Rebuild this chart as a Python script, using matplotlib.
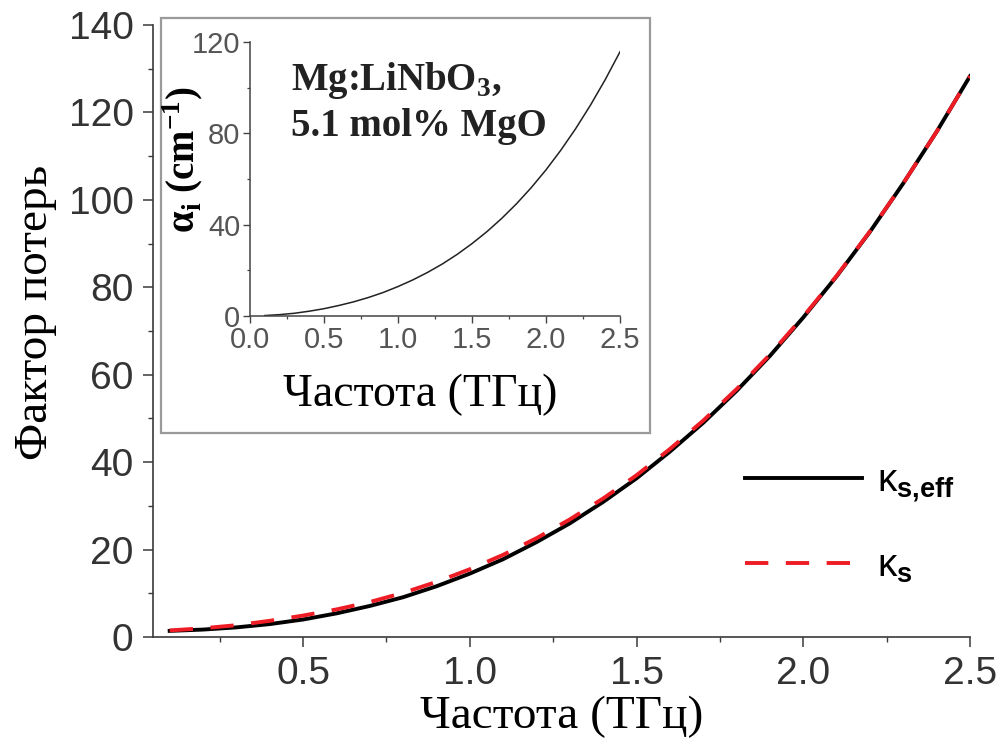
import matplotlib

matplotlib.use("Agg")
import matplotlib.pyplot as plt
from matplotlib.patches import Rectangle
from matplotlib.ticker import MultipleLocator

# Частота, ТГц
freq = [0.1, 0.2, 0.3, 0.4, 0.5, 0.6, 0.7, 0.8, 0.9, 1.0,
        1.1, 1.2, 1.3, 1.4, 1.5, 1.6, 1.7, 1.8, 1.9, 2.0,
        2.1, 2.2, 2.3, 2.4, 2.5]

# Фактор потерь: эффективный и обычный
kappa_eff = [1.4, 1.7, 2.2, 2.95, 4.0, 5.4, 7.1, 9.1, 11.6, 14.5,
             17.8, 21.7, 26.0, 30.9, 36.3, 42.4, 49.0, 56.3, 64.3, 73.1,
             82.5, 92.7, 103.8, 115.6, 128.3]
kappa_s = [1.5, 2.0, 2.7, 3.7, 4.9, 6.3, 8.0, 10.1, 12.6, 15.5,
           18.8, 22.6, 26.9, 31.7, 37.0, 43.0, 49.5, 56.7, 64.6, 73.3,
           82.6, 92.8, 103.8, 115.6, 128.3]

# Коэффициент поглощения Mg:LiNbO3, см^-1
alpha_i = [0.2, 0.6, 1.2, 2.1, 3.2, 4.6, 6.2, 8.1, 10.3, 12.9,
           15.8, 19.1, 22.8, 27.0, 31.7, 36.9, 42.7, 49.1, 56.2, 64.0,
           72.6, 82.0, 92.3, 103.5, 115.7]

plt.rcParams["mathtext.fontset"] = "custom"
plt.rcParams["mathtext.rm"] = "Liberation Serif"
plt.rcParams["mathtext.bf"] = "Liberation Serif:bold"
plt.rcParams["mathtext.sf"] = "Liberation Sans:bold"
plt.rcParams["font.family"] = ["Liberation Sans", "DejaVu Sans"]

W, H = 1006, 749
fig = plt.figure(figsize=(W / 100, H / 100), dpi=100)


def fx(px):
    return px / W


def fy(py):
    return 1 - py / H


SPINE = "#3a3a3a"
TICK_TXT = "#333333"

ax = fig.add_axes([fx(153), fy(637), fx(970) - fx(153), fy(25) - fy(637)])
ax.plot(freq, kappa_eff, color="black", lw=2.8, label="κ$_\\mathsf{s{,}eff}$", zorder=3)
ax.plot(freq, kappa_s, color="#ee1c24", lw=2.8, dashes=(6, 4.5),
        label="κ$_\\mathsf{s}$", zorder=4)
ax.set_xlim(0.05, 2.5)
ax.set_ylim(0, 140)
ax.xaxis.set_major_locator(MultipleLocator(0.5))
ax.xaxis.set_minor_locator(MultipleLocator(0.25))
ax.yaxis.set_major_locator(MultipleLocator(20))
ax.yaxis.set_minor_locator(MultipleLocator(10))
ax.set_xticks([0.5, 1.0, 1.5, 2.0, 2.5])
for s in ("top", "right"):
    ax.spines[s].set_visible(False)
for s in ("left", "bottom"):
    ax.spines[s].set_color(SPINE)
    ax.spines[s].set_linewidth(1.2)
ax.tick_params(which="major", direction="out", length=7, width=1.1,
               color=SPINE, labelsize=28, labelcolor=TICK_TXT, pad=7)
ax.tick_params(which="minor", direction="out", length=3.5, width=1.0, color=SPINE)
ax.set_xlabel("Частота (ТГц)", family="Liberation Serif", fontsize=34)
ax.set_ylabel("Фактор потерь", family="Liberation Serif", fontsize=34)
ax.xaxis.set_label_coords(0.5, -0.095)
ax.yaxis.set_label_coords(-0.118, 0.53)

ax.legend(loc="upper left", bbox_to_anchor=(fx(745), fy(464)),
          bbox_transform=fig.transFigure, frameon=False, fontsize=28,
          handlelength=3.0, handletextpad=0.4, labelspacing=1.12,
          borderpad=0, borderaxespad=0)

# рамка врезки
box = Rectangle((fx(161), fy(433)), fx(650) - fx(161), fy(18) - fy(433),
                transform=fig.transFigure, facecolor="white",
                edgecolor="#9a9a9a", lw=1.6, zorder=5, clip_on=False)
ax.add_patch(box)

ins = fig.add_axes([fx(250), fy(316), fx(620) - fx(250), fy(42) - fy(316)])
ins.patch.set_alpha(0)
ins.plot(freq, alpha_i, color="#222222", lw=1.1)
ins.set_xlim(0, 2.5)
ins.set_ylim(0, 120)
ins.xaxis.set_major_locator(MultipleLocator(0.5))
ins.xaxis.set_minor_locator(MultipleLocator(0.25))
ins.yaxis.set_major_locator(MultipleLocator(40))
ins.yaxis.set_minor_locator(MultipleLocator(20))
for s in ("top", "right"):
    ins.spines[s].set_visible(False)
for s in ("left", "bottom"):
    ins.spines[s].set_color("#444444")
    ins.spines[s].set_linewidth(1.1)
ins.tick_params(which="major", direction="out", length=5, width=1.0,
                color="#444444", labelsize=21, labelcolor="#555555", pad=2)
ins.tick_params(which="minor", direction="out", length=2.5, width=0.9,
                color="#444444")
ins.set_xlabel("Частота (ТГц)", family="Liberation Serif", fontsize=33)
ins.xaxis.set_label_coords(0.46, -0.21)
ins.set_ylabel("α$_\\mathbf{i}$ (cm$^{\\mathbf{-1}}$)", family="Liberation Serif",
               fontweight="bold", fontsize=28)
ins.yaxis.set_label_coords(-0.118, 0.57)

ins.text(0.11, 0.86, "Mg:LiNbO$_\\mathbf{3}$,", transform=ins.transAxes,
         family="Liberation Serif", fontweight="bold", fontsize=28,
         va="center", ha="left", color="#222222")
ins.text(0.11, 0.69, "5.1 mol% MgO", transform=ins.transAxes,
         family="Liberation Serif", fontweight="bold", fontsize=28,
         va="center", ha="left", color="#222222")

fig.savefig("out.png", dpi=100)
